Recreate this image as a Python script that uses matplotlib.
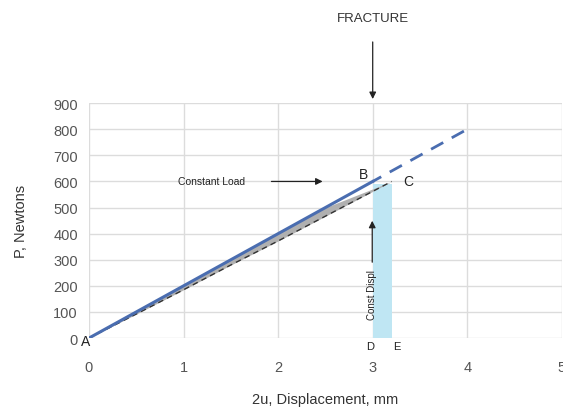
import matplotlib.pyplot as plt

plt.rcParams['font.family'] = ['Liberation Sans', 'DejaVu Sans']

# load line (solid blue), with extension past fracture (dashed blue)
x_load = [0, 0.5, 1.0, 1.5, 2.0, 2.5, 3.0]
p_load = [0, 100, 200, 300, 400, 500, 600]
x_ext = [3.0, 4.0]
p_ext = [600, 800]

# constant displacement line (black dashed)
x_disp = [0, 0.5, 1.0, 1.5, 2.0, 2.5, 3.2]
p_disp = [0, 92, 185, 280, 372, 467, 600]

# light blue strip D-E
strip_x = [3.0, 3.2]
strip_top = 590

fig = plt.figure(figsize=(5.63, 4.10), dpi=100)
ax = fig.add_axes([0.158, 0.173, 0.84, 0.573])

ax.fill_between(strip_x, 0, strip_top, color='#bfe6f3', lw=0, zorder=1)
ax.fill_between(x_disp, p_disp, [min(200 * x, 600) for x in x_disp],
                color='#b0b0b0', lw=0, zorder=2)
ax.plot(x_disp, p_disp, color='#333333', ls=(0, (4, 3)), lw=1.0, zorder=3)
ax.plot(x_load, p_load, color='#4a6db0', lw=2.2, zorder=4)
ax.plot(x_ext, p_ext, color='#4a6db0', lw=2.0, ls=(1.5, (5, 3.5)), zorder=4)

ax.set_xlim(0, 5)
ax.set_ylim(0, 900)
ax.set_xticks(range(0, 6))
ax.set_yticks(range(0, 901, 100))
ax.grid(True, color='#dcdcdc', lw=1.0)
ax.set_axisbelow(True)
for s in ax.spines.values():
    s.set_visible(False)
ax.tick_params(length=0, labelsize=10.5, colors='#555555')
ax.tick_params(axis='x', pad=16)
ax.tick_params(axis='y', pad=8)

ax.set_xlabel('2u, Displacement, mm', fontsize=10.5, color='#333333', labelpad=13)
ax.set_ylabel('P, Newtons', fontsize=10.5, color='#333333', labelpad=18)

# point labels
ax.text(-0.04, -10, 'A', fontsize=10, ha='center', va='center', color='#222222')
ax.text(2.9, 630, 'B', fontsize=10, ha='center', va='center', color='#222222')
ax.text(3.38, 600, 'C', fontsize=10, ha='center', va='center', color='#222222')
ax.text(2.97, -30, 'D', fontsize=8, ha='center', va='center', color='#222222')
ax.text(3.25, -30, 'E', fontsize=8, ha='center', va='center', color='#222222')

# annotations
ax.annotate('', xy=(2.5, 600), xytext=(1.9, 600),
            arrowprops=dict(arrowstyle='-|>', color='#222222', lw=0.9))
ax.text(1.3, 600, 'Constant Load', fontsize=7.5, ha='center', va='center',
        color='#222222')
ax.annotate('', xy=(2.995, 460), xytext=(2.995, 280),
            arrowprops=dict(arrowstyle='-|>', color='#222222', lw=0.9))
ax.text(2.995, 170, 'Const Displ', fontsize=7, ha='center', va='center',
        rotation=90, color='#222222')
ax.annotate('', xy=(3.0, 905), xytext=(3.0, 1145),
            arrowprops=dict(arrowstyle='-|>', color='#222222', lw=0.9),
            annotation_clip=False)
ax.text(3.0, 1225, 'FRACTURE', fontsize=9.5, ha='center', va='center',
        color='#333333')

fig.savefig('out.png', dpi=100)
